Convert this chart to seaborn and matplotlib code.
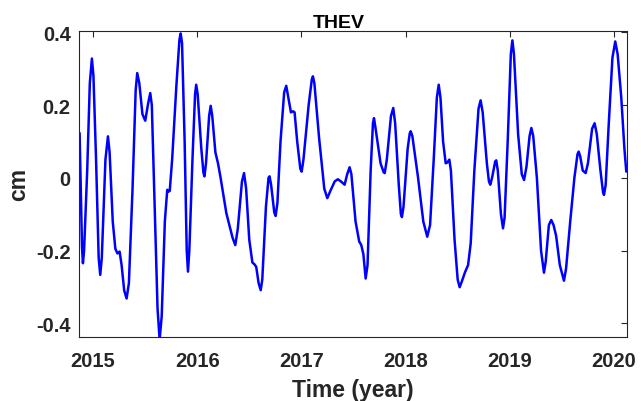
import matplotlib
matplotlib.use("Agg")
import matplotlib.pyplot as plt
import seaborn as sns
import pandas as pd

years = [
    2014.872, 2014.888, 2014.895, 2014.904, 2014.915, 2014.945, 2014.970, 2014.990,
    2015.005, 2015.030, 2015.055, 2015.070, 2015.085, 2015.120, 2015.144, 2015.160,
    2015.190, 2015.215, 2015.235, 2015.256, 2015.275, 2015.300, 2015.323, 2015.345,
    2015.380, 2015.410, 2015.425, 2015.445, 2015.475, 2015.502, 2015.530, 2015.550,
    2015.565, 2015.590, 2015.620, 2015.640, 2015.660, 2015.690, 2015.713, 2015.725,
    2015.737, 2015.760, 2015.800, 2015.830, 2015.842, 2015.855, 2015.880, 2015.900,
    2015.912, 2015.925, 2015.955, 2015.980, 2015.991, 2016.005, 2016.040, 2016.060,
    2016.070, 2016.085, 2016.115, 2016.130, 2016.145, 2016.175, 2016.200, 2016.225,
    2016.280, 2016.340, 2016.366, 2016.390, 2016.430, 2016.450, 2016.470, 2016.500,
    2016.530, 2016.550, 2016.567, 2016.590, 2016.610, 2016.625, 2016.660, 2016.685,
    2016.695, 2016.710, 2016.740, 2016.753, 2016.770, 2016.800, 2016.835, 2016.855,
    2016.875, 2016.900, 2016.920, 2016.935, 2016.960, 2016.990, 2017.003, 2017.020,
    2017.070, 2017.100, 2017.111, 2017.125, 2017.170, 2017.220, 2017.249, 2017.280,
    2017.320, 2017.350, 2017.380, 2017.415, 2017.440, 2017.463, 2017.480, 2017.520,
    2017.555, 2017.575, 2017.595, 2017.617, 2017.635, 2017.665, 2017.687, 2017.697,
    2017.710, 2017.760, 2017.790, 2017.800, 2017.820, 2017.860, 2017.882, 2017.900,
    2017.935, 2017.955, 2017.965, 2017.980, 2018.020, 2018.040, 2018.049, 2018.065,
    2018.120, 2018.170, 2018.208, 2018.235, 2018.270, 2018.300, 2018.318, 2018.335,
    2018.360, 2018.385, 2018.400, 2018.420, 2018.435, 2018.470, 2018.500, 2018.519,
    2018.540, 2018.570, 2018.600, 2018.625, 2018.660, 2018.700, 2018.720, 2018.740,
    2018.780, 2018.800, 2018.813, 2018.830, 2018.860, 2018.870, 2018.885, 2018.915,
    2018.935, 2018.950, 2018.980, 2019.010, 2019.025, 2019.040, 2019.080, 2019.115,
    2019.137, 2019.160, 2019.190, 2019.207, 2019.225, 2019.260, 2019.300, 2019.328,
    2019.345, 2019.375, 2019.398, 2019.420, 2019.445, 2019.480, 2019.520, 2019.540,
    2019.580, 2019.620, 2019.650, 2019.661, 2019.675, 2019.700, 2019.728, 2019.750,
    2019.790, 2019.814, 2019.835, 2019.870, 2019.895, 2019.904, 2019.920, 2019.950,
    2019.985, 2020.012, 2020.035, 2020.070, 2020.100, 2020.118,
]
cm = [
    0.123, -0.100, -0.190, -0.235, -0.200, 0.020, 0.260, 0.328,
    0.280, 0.050, -0.220, -0.267, -0.220, 0.050, 0.114, 0.070,
    -0.120, -0.195, -0.208, -0.203, -0.240, -0.310, -0.332, -0.290,
    -0.030, 0.240, 0.288, 0.260, 0.175, 0.157, 0.205, 0.233,
    0.200, -0.050, -0.360, -0.445, -0.380, -0.120, -0.033, -0.038,
    -0.036, 0.050, 0.250, 0.380, 0.397, 0.370, 0.100, -0.200,
    -0.258, -0.200, 0.050, 0.230, 0.256, 0.230, 0.080, 0.015,
    0.004, 0.040, 0.170, 0.198, 0.170, 0.070, 0.040, 0.000,
    -0.097, -0.165, -0.185, -0.140, -0.010, 0.013, -0.030, -0.170,
    -0.233, -0.238, -0.245, -0.290, -0.309, -0.280, -0.080, 0.000,
    0.004, -0.020, -0.095, -0.105, -0.070, 0.100, 0.235, 0.253,
    0.220, 0.180, 0.183, 0.180, 0.100, 0.025, 0.017, 0.050,
    0.200, 0.270, 0.279, 0.260, 0.110, -0.030, -0.056, -0.035,
    -0.010, -0.004, -0.010, -0.019, 0.010, 0.029, 0.010, -0.120,
    -0.175, -0.185, -0.210, -0.277, -0.240, 0.020, 0.150, 0.164,
    0.140, 0.040, 0.015, 0.013, 0.050, 0.170, 0.192, 0.150,
    -0.020, -0.100, -0.108, -0.080, 0.080, 0.122, 0.128, 0.115,
    0.000, -0.120, -0.162, -0.130, 0.050, 0.220, 0.256, 0.220,
    0.100, 0.040, 0.042, 0.050, 0.020, -0.170, -0.280, -0.301,
    -0.285, -0.260, -0.240, -0.180, 0.020, 0.190, 0.213, 0.180,
    0.040, -0.010, -0.019, 0.000, 0.045, 0.048, 0.020, -0.100,
    -0.139, -0.110, 0.100, 0.340, 0.378, 0.340, 0.120, 0.010,
    -0.006, 0.030, 0.115, 0.137, 0.115, 0.000, -0.200, -0.261,
    -0.230, -0.130, -0.116, -0.130, -0.160, -0.240, -0.283, -0.250,
    -0.120, 0.000, 0.065, 0.072, 0.060, 0.020, 0.013, 0.040,
    0.135, 0.150, 0.120, 0.020, -0.040, -0.047, -0.020, 0.150,
    0.330, 0.375, 0.340, 0.220, 0.080, 0.017,
]

xticks = [2015, 2016, 2017, 2018, 2019, 2020]
xticklabels = ["2015", "2016", "2017", "2018", "2019", "2020"]
yticks = [-0.4, -0.2, 0.0, 0.2, 0.4]
yticklabels = ["-0.4", "-0.2", "0", "0.2", "0.4"]

sns.set_style("white")
plt.rcParams["font.family"] = ["Liberation Sans", "DejaVu Sans"]

df = pd.DataFrame({"year": years, "cm": cm})

fig = plt.figure(figsize=(6.41, 4.02), dpi=100)
ax = fig.add_axes([0.1232, 0.160, 0.8545, 0.7597])

sns.lineplot(data=df, x="year", y="cm", ax=ax, color=(0, 0, 1), linewidth=1.8, sort=False)

ax.set_xlim(2014.866, 2020.122)
ax.set_ylim(-0.437, 0.403)
ax.set_xticks(xticks)
ax.set_xticklabels(xticklabels)
ax.set_yticks(yticks)
ax.set_yticklabels(yticklabels)

dark = "#262626"
for s in ax.spines.values():
    s.set_visible(True)
    s.set_color(dark)
    s.set_linewidth(0.8)

ax.tick_params(axis="both", direction="in", length=4, width=0.8, color=dark,
               top=True, right=True, labelcolor=dark, labelsize=14.5)
ax.tick_params(axis="x", pad=10)
ax.tick_params(axis="y", pad=6)
for lab in ax.get_xticklabels() + ax.get_yticklabels():
    lab.set_fontweight("bold")

ax.set_xlabel("Time (year)", fontsize=16.5, fontweight="bold", color=dark, labelpad=6)
ax.set_ylabel("cm", fontsize=16.5, fontweight="bold", color=dark, labelpad=4)
ax.set_title("THEV", fontsize=14, fontweight="bold", color="black", pad=3, x=0.475)
ax.grid(False)

fig.savefig("out.png", dpi=100)
